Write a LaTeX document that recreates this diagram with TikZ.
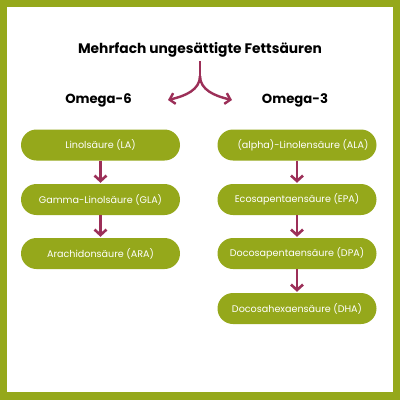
\documentclass[tikz,border=0pt]{standalone}
\usepackage{fontspec}
\setmainfont{Poppins}
\usetikzlibrary{arrows.meta}
\definecolor{fgreen}{HTML}{95A81B}
\definecolor{amaroon}{HTML}{9C2F58}
\tikzset{
  box/.style={fill=fgreen, text=white, rounded corners=15.5pt, minimum width=159pt, minimum height=31pt, inner sep=0pt, font=\fontsize{9.6}{11}\selectfont},
  head/.style={font=\fontsize{13.8}{16}\selectfont\bfseries, inner sep=0pt},
  sub/.style={font=\fontsize{13.2}{16}\selectfont\bfseries, inner sep=0pt},
  varrow/.style={draw=amaroon, line width=2.6pt, -{Straight Barb[length=5.5pt,width=12pt,line width=2.6pt]}, shorten >=1pt},
  carrow/.style={draw=amaroon, line width=2.4pt, -{Straight Barb[length=5pt,width=11pt,line width=2.4pt]}}
}
\begin{document}
\begin{tikzpicture}[x=1pt,y=-1pt]
\fill[fgreen] (0,0) rectangle (400,400);
\fill[white] (7,7) rectangle (393,392);
\useasboundingbox (0,0) rectangle (400,400);
\node[head] (title) at (200,50) {Mehrfach ungesättigte Fettsäuren};
\node[sub] (o6) at (98.5,100) {Omega-6};
\node[sub] (o3) at (295,100) {Omega-3};
\coordinate (split) at (200,76);
\coordinate (tl) at (168,100);
\coordinate (tr) at (232,100);
\draw[amaroon, line width=2.4pt] (200,61) -- (split);
\draw[carrow] (split) .. controls (200,90) and (185,96) .. (tl);
\draw[carrow] (split) .. controls (200,90) and (215,96) .. (tr);
\node[box] (l1) at (100.5,145) {Linolsäure (LA)};
\node[box] (l2) at (100.5,199.5) {Gamma-Linolsäure (GLA)};
\node[box] (l3) at (100.5,253.5) {Arachidonsäure (ARA)};
\node[box] (r1) at (297,145) {\hspace{12pt}(alpha)-Linolensäure (ALA)};
\node[box] (r2) at (297,199.5) {Ecosapentaensäure (EPA)};
\node[box] (r3) at (297,253.5) {Docosapentaensäure (DPA)};
\node[box] (r4) at (297,308.5) {Docosahexaensäure (DHA)};
\draw[varrow] (l1) -- (l2);
\draw[varrow] (l2) -- (l3);
\draw[varrow] (r1) -- (r2);
\draw[varrow] (r2) -- (r3);
\draw[varrow] (r3) -- (r4);
\end{tikzpicture}
\end{document}
